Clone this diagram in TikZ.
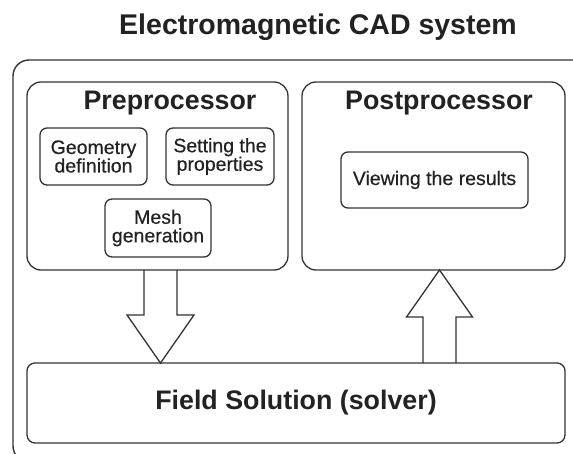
\documentclass[tikz,border=0pt]{standalone}
\usepackage{fontspec}
\setmainfont{Liberation Sans}
\newfontfamily\medfont[FakeBold=0.4]{Liberation Sans}
\usetikzlibrary{calc}
\definecolor{ln}{HTML}{333333}
\definecolor{tx}{HTML}{222222}
\begin{document}
\begin{tikzpicture}[x=1pt,y=-1pt,
  box/.style={draw=ln,line width=1.3pt,rounded corners=14pt,inner sep=0pt,outer sep=0pt},
  sbox/.style={draw=ln,line width=1.3pt,rounded corners=7pt,inner sep=0pt,outer sep=0pt,align=center,text=tx,font=\medfont\fontsize{19.5}{18.5}\selectfont},
  title/.style={text=tx,inner sep=0pt,font=\fontsize{26.8}{28}\selectfont\bfseries},
  blockarrow/.style={draw=ln,line width=1.3pt,line join=miter}]
\useasboundingbox (0,0) rectangle (573,454);
\fill[white] (0,0) rectangle (573,454);
\begin{scope}
\clip (0,0) rectangle (573,454);
\draw[ln,line width=1.4pt,rounded corners=16pt] (13,60) rectangle (620,462);
\end{scope}
\node[title,font=\fontsize{28.5}{30}\selectfont\bfseries] (ttl) at (318,27) {Electromagnetic CAD system};
\node[box,minimum width=261pt,minimum height=188pt] (pre) at (157.5,176) {};
\node[title] (pret) at (170,103) {Preprocessor};
\node[sbox,minimum width=107pt,minimum height=57pt] (geo) at (93.5,156.5) {Geometry\\definition};
\node[sbox,minimum width=108pt,minimum height=57pt] (set) at (220,156.5) {Setting the\\properties};
\node[sbox,minimum width=106pt,minimum height=58pt] (mesh) at (158,228) {Mesh\\generation};
\node[box,minimum width=263pt,minimum height=188pt] (post) at (433.5,176) {};
\node[title] (postt) at (439,103) {Postprocessor};
\node[sbox,minimum width=187pt,minimum height=56pt] (view) at (434.5,180) {Viewing the results};
\node[box,rounded corners=8pt,minimum width=538pt,minimum height=80pt,text=tx,font=\fontsize{26.8}{28}\selectfont\bfseries] (fs) at (296,403) {Field Solution (solver)};
% down block arrow: Preprocessor -> Field Solution
\coordinate (d1) at ($(pre.south)+(3,0)$);
\coordinate (d2) at (d1 |- fs.north);
\draw[blockarrow] ($(d1)+(-16.5,0)$) -- ($(d2)+(-16.5,-48)$) -- ($(d2)+(-33.5,-48)$) -- (d2)
  -- ($(d2)+(33.5,-48)$) -- ($(d2)+(16.5,-48)$) -- ($(d1)+(16.5,0)$);
% up block arrow: Field Solution -> Postprocessor
\coordinate (u1) at ($(fs.north)+(143.5,0)$);
\coordinate (u2) at (u1 |- post.south);
\draw[blockarrow] ($(u1)+(-16.5,0)$) -- ($(u2)+(-16.5,47)$) -- ($(u2)+(-33,47)$) -- (u2)
  -- ($(u2)+(33,47)$) -- ($(u2)+(16.5,47)$) -- ($(u1)+(16.5,0)$);
\end{tikzpicture}
\end{document}
